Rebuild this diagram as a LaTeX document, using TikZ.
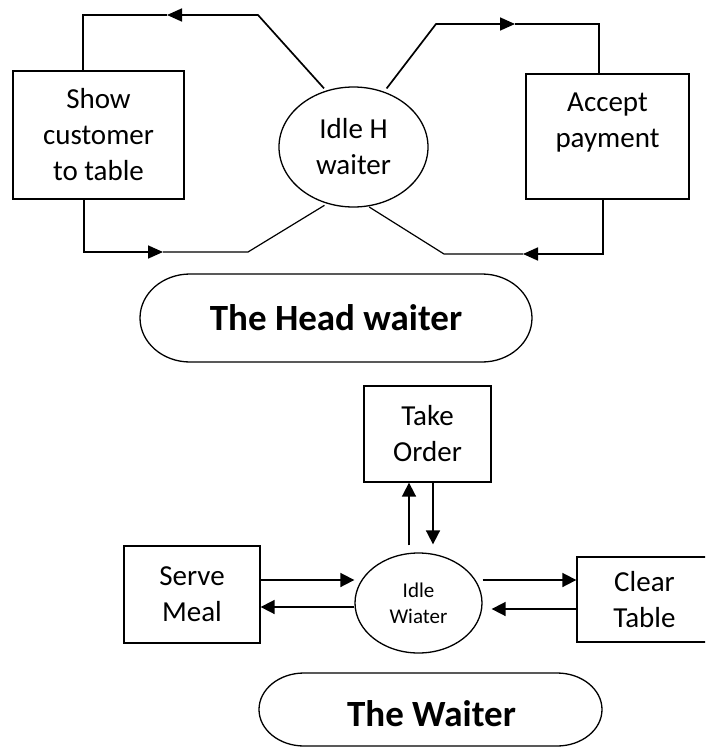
\documentclass[tikz,border=0pt]{standalone}
\usepackage{fontspec}
\setmainfont{Carlito}
\usetikzlibrary{arrows.meta,shapes.geometric,calc}
\begin{document}
\begin{tikzpicture}[x=1pt,y=1pt,line width=1.3pt,
  box/.style={draw,rectangle,inner sep=0pt,align=center,font=\fontsize{29}{36}\selectfont},
  txt/.style={inner sep=0pt,align=center,font=\fontsize{29}{36}\selectfont},
  state/.style={draw,ellipse,inner sep=0pt,align=center},
  bigtip/.style={line width=1.7pt,-{Triangle[length=15pt,width=13pt]}},
  smalltip/.style={line width=1.7pt,-{Triangle[length=14pt,width=14pt]}},
  thin/.style={line width=1.2pt},
  title/.style={inner sep=0pt,font=\fontsize{37}{44}\selectfont\bfseries}]
\useasboundingbox (0,0) rectangle (705,-747);
\clip (0,0) rectangle (705,-747);

% ---------- head waiter cycle ----------
\node[box,minimum width=171pt,minimum height=128pt] (show) at (98.5,-135) {Show\\customer\\to table};
\node[state,minimum width=149pt,minimum height=120pt,font=\fontsize{29}{36}\selectfont] (hi) at (353.5,-147) {Idle H\\waiter};
\node[box,minimum width=163pt,minimum height=125pt] (ap) at (607.5,-136.5) {};
\node[txt] (aptxt) at (607.5,-122.5) {Accept\\payment};

% to the table
\coordinate (tl1) at (258,-15);
\coordinate (tl2) at (167,-15);
\coordinate (tl3) at (83,-15);
\draw[bigtip,shorten <=3pt] (hi.116) -- (tl1) -- (tl2);
\draw[thin] (tl2) -- (tl3) -- (tl3 |- show.north);

% back to idle
\coordinate (bl1) at (84,-252);
\coordinate (bl2) at (163,-252);
\coordinate (bl3) at (248,-252);
\draw[bigtip] (show.south -| bl1) -- (bl1) -- (bl2);
\draw[thin,shorten >=3pt] (bl2) -- (bl3) -- (hi.245);

% to payment
\coordinate (tr1) at (436,-24);
\coordinate (tr2) at (515,-24);
\coordinate (tr3) at (599,-24);
\draw[bigtip,shorten <=4pt] (hi.61) -- (tr1) -- (tr2);
\draw[thin] (tr2) -- (tr3) -- (tr3 |- ap.north);

% back to idle
\coordinate (br1) at (603,-254);
\coordinate (br2) at (523,-254);
\coordinate (br3) at (444,-254);
\draw[bigtip] (ap.south -| br1) -- (br1) -- (br2);
\draw[thin,shorten >=1pt] (br2) -- (br3) -- (hi.-76);

% title
\node[title] (hwt) at (336,-318) {The Head waiter};
\draw (190,-274) -- (482,-274)
  arc[start angle=90,end angle=-90,x radius=50pt,y radius=44pt]
  -- (190,-362)
  arc[start angle=270,end angle=90,x radius=50pt,y radius=44pt] -- cycle;

% ---------- waiter cycle ----------
\node[box,minimum width=127pt,minimum height=96pt] (to) at (427.5,-434) {Take\\Order};
\node[box,minimum width=136pt,minimum height=97pt] (sm) at (192,-594.5) {Serve\\Meal};
\node[state,minimum width=127pt,minimum height=100pt,font=\fontsize{21}{26}\selectfont] (iw) at (418.5,-603) {Idle\\Wiater};
\node[box,minimum width=135pt,minimum height=85pt] (ct) at (644.5,-599.5) {Clear\\Table};

\draw[smalltip] ([xshift=-18.5pt,yshift=7pt]iw.north -| to.south) -- ([xshift=-18.5pt]to.south);
\draw[smalltip] ([xshift=5.5pt]to.south) -- ($(iw.north)+(14.5,8)$);

\draw[smalltip] ([yshift=14.5pt]sm.east) -- ([yshift=14.5pt]sm.east -| iw.west);
\draw[smalltip] ([yshift=-4pt]iw.west) -- ([yshift=-4pt]iw.west -| sm.east);

\draw[smalltip] ([yshift=19.5pt]ct.west -| iw.east) -- ([yshift=19.5pt]ct.west);
\draw[smalltip] ([yshift=-9.5pt]ct.west) -- ($(iw.east)+(9,-6)$);

% title
\node[title] (wt) at (431.5,-714) {The Waiter};
\draw (304,-673) -- (557,-673)
  arc[start angle=90,end angle=-90,x radius=45pt,y radius=36.5pt]
  -- (304,-746)
  arc[start angle=270,end angle=90,x radius=45pt,y radius=36.5pt] -- cycle;
\end{tikzpicture}
\end{document}
